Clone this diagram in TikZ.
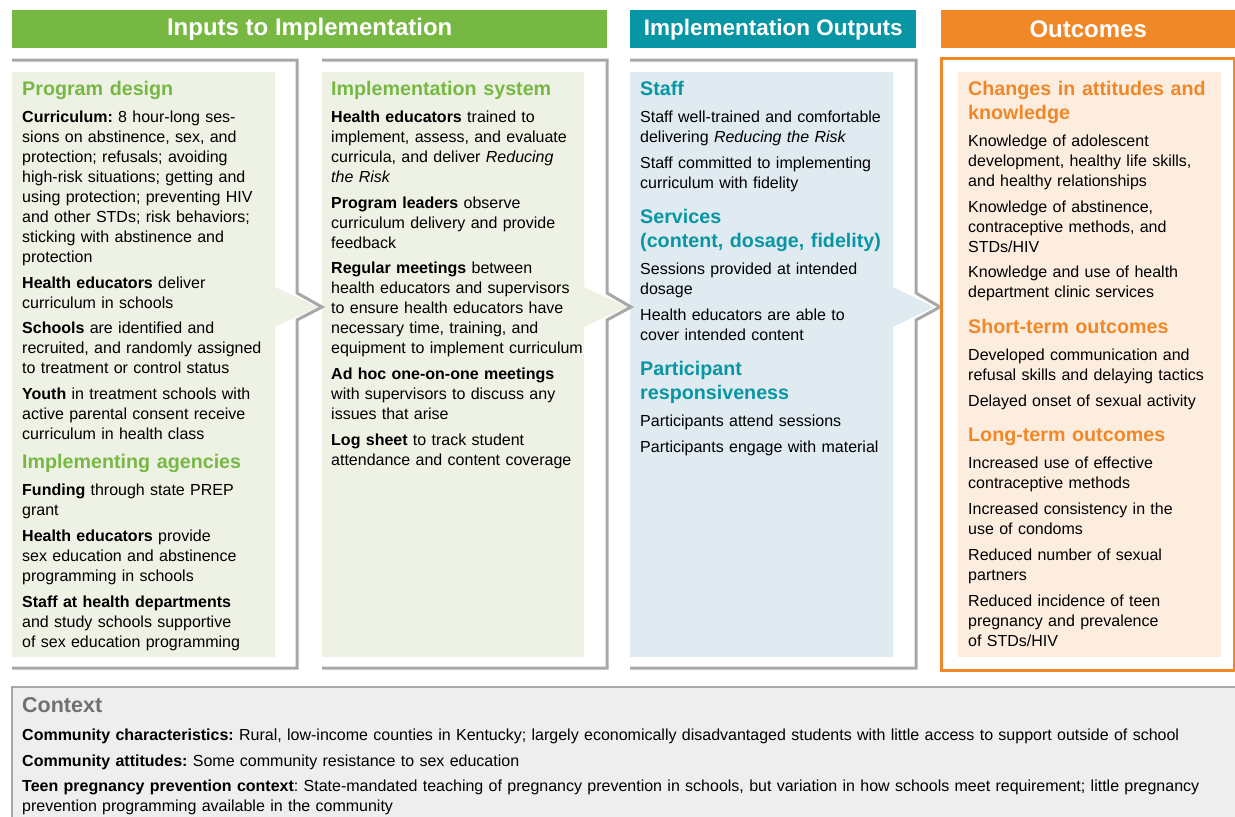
\documentclass[tikz,border=0pt]{standalone}
\usepackage{fontspec}
\setmainfont{Liberation Sans}
\frenchspacing
\usetikzlibrary{positioning}
\definecolor{ingreen}{RGB}{119,184,67}
\definecolor{outteal}{RGB}{8,150,165}
\definecolor{outorange}{RGB}{240,136,40}
\definecolor{greenpanel}{RGB}{237,242,228}
\definecolor{bluepanel}{RGB}{223,235,240}
\definecolor{peachpanel}{RGB}{253,237,223}
\definecolor{framegray}{RGB}{168,168,168}
\definecolor{ctxfill}{RGB}{238,238,238}
\definecolor{ctxhead}{RGB}{112,112,112}

\begin{document}
\begin{tikzpicture}[%
    x=1pt, y=-1pt,
    bar/.style={fill=#1, text=white, font=\fontsize{24}{28}\selectfont\bfseries,
      inner sep=0pt, minimum height=38pt, anchor=north west},
    head/.style={text=#1, font=\fontsize{19.7}{24}\selectfont\bfseries,
      text width=265pt, align=left, inner sep=0pt, anchor=north west,
      execute at begin node=\strut, execute at end node=\strut},
    body/.style={font=\fontsize{16}{20}\selectfont, text width=265pt, align=left,
      inner sep=0pt, anchor=north west,
      execute at begin node=\strut, execute at end node=\strut},
    frame/.style={draw=framegray, line width=3pt},
    para/.style={below right=5.5pt and 0pt of #1.south west},
    spaced/.style={below right=12pt and 0pt of #1.south west}]
  \useasboundingbox (0,0) rectangle (1235,817);

  % panels with their arrow tips
  \fill[greenpanel] (12,72) -| (275,287) -- (318,307) -- (275,327) |- (12,657) -- cycle;
  \fill[greenpanel] (322,72) -| (584,287) -- (627,307) -- (584,327) |- (322,657) -- cycle;
  \fill[bluepanel] (630,72) -| (893,287) -- (934,307) -- (893,327) |- (630,657) -- cycle;
  \fill[peachpanel] (958,72) rectangle (1221,657);

  % open frames
  \draw[frame] (12,60) -- (297,60) -- (297,293) -- (322,307) -- (297,320) -- (297,668) -- (12,668);
  \draw[frame] (322,60) -- (607,60) -- (607,293) -- (631,307) -- (607,320) -- (607,668) -- (322,668);
  \draw[frame] (630,60) -- (916,60) -- (916,293) -- (940,307) -- (916,320) -- (916,668) -- (630,668);
  \draw[draw=outorange, line width=3pt] (941,58) rectangle (1234,670);

  % column titles
  \node[bar=ingreen, minimum width=595pt] (inputs) at (12,10) {Inputs to Implementation};
  \node[bar=outteal, minimum width=286pt, font=\fontsize{22.5}{26}\selectfont\bfseries] (outputs) at (630,10) {Implementation Outputs};
  \node[bar=outorange, minimum width=294pt] (outcomes) at (941,10) {Outcomes};

  % inputs: program design
  \node[head=ingreen] (c1a) at (22,78) {Program design};
  \node[body, para=c1a] (c1b) {\textbf{Curriculum:} 8 hour-long ses-\\sions on abstinence, sex, and\\protection; refusals; avoiding\\high-risk situations; getting and\\using protection; preventing HIV\\and other STDs; risk behaviors;\\sticking with abstinence and\\protection};
  \node[body, para=c1b] (c1c) {\textbf{Health educators} deliver\\curriculum in schools};
  \node[body, para=c1c] (c1d) {\textbf{Schools} are identified and\\recruited, and randomly assigned\\to treatment or control status};
  \node[body, para=c1d] (c1e) {\textbf{Youth} in treatment schools with\\active parental consent receive\\curriculum in health class};
  \node[head=ingreen, para=c1e] (c1f) {Implementing agencies};
  \node[body, para=c1f] (c1g) {\textbf{Funding} through state PREP\\grant};
  \node[body, para=c1g] (c1h) {\textbf{Health educators} provide\\sex education and abstinence\\programming in schools};
  \node[body, para=c1h] (c1i) {\textbf{Staff at health departments}\\and study schools supportive\\of sex education programming};

  % inputs: implementation system
  \node[head=ingreen] (c2a) at (331,78) {Implementation system};
  \node[body, para=c2a] (c2b) {\textbf{Health educators} trained to\\implement, assess, and evaluate\\curricula, and deliver \textit{Reducing}\\\textit{the Risk}};
  \node[body, para=c2b] (c2c) {\textbf{Program leaders} observe\\curriculum delivery and provide\\feedback};
  \node[body, para=c2c] (c2d) {\textbf{Regular meetings} between\\health educators and supervisors\\to ensure health educators have\\necessary time, training, and\\equipment to implement curriculum};
  \node[body, para=c2d] (c2e) {\textbf{Ad hoc one-on-one meetings}\\with supervisors to discuss any\\issues that arise};
  \node[body, para=c2e] (c2f) {\textbf{Log sheet} to track student\\attendance and content coverage};

  % outputs
  \node[head=outteal] (c3a) at (640,78) {Staff};
  \node[body, para=c3a] (c3b) {Staff well-trained and comfortable\\delivering \textit{Reducing the Risk}};
  \node[body, para=c3b] (c3c) {Staff committed to implementing\\curriculum with fidelity};
  \node[head=outteal, spaced=c3c] (c3d) {Services\\(content, dosage, fidelity)};
  \node[body, para=c3d] (c3e) {Sessions provided at intended\\dosage};
  \node[body, para=c3e] (c3f) {Health educators are able to\\cover intended content};
  \node[head=outteal, spaced=c3f] (c3g) {Participant\\responsiveness};
  \node[body, para=c3g] (c3h) {Participants attend sessions};
  \node[body, para=c3h] (c3i) {Participants engage with material};

  % outcomes
  \node[head=outorange] (c4a) at (968,78) {Changes in attitudes and\\knowledge};
  \node[body, para=c4a] (c4b) {Knowledge of adolescent\\development, healthy life skills,\\and healthy relationships};
  \node[body, para=c4b] (c4c) {Knowledge of abstinence,\\contraceptive methods, and\\STDs/HIV};
  \node[body, para=c4c] (c4d) {Knowledge and use of health\\department clinic services};
  \node[head=outorange, spaced=c4d] (c4e) {Short-term outcomes};
  \node[body, para=c4e] (c4f) {Developed communication and\\refusal skills and delaying tactics};
  \node[body, para=c4f] (c4g) {Delayed onset of sexual activity};
  \node[head=outorange, spaced=c4g] (c4h) {Long-term outcomes};
  \node[body, para=c4h] (c4i) {Increased use of effective\\contraceptive methods};
  \node[body, para=c4i] (c4j) {Increased consistency in the\\use of condoms};
  \node[body, para=c4j] (c4k) {Reduced number of sexual\\partners};
  \node[body, para=c4k] (c4l) {Reduced incidence of teen\\pregnancy and prevalence\\of STDs/HIV};

  % context strip
  \fill[ctxfill] (12,687) rectangle (1235,817);
  \draw[frame, line width=2.5pt] (1235,687) -- (12,687) -- (12,817);
  \node[head=ctxhead, font=\fontsize{21.5}{25}\selectfont\bfseries] (ctx) at (22,695) {Context};
  \node[body, text width=1205pt, para=ctx] (ctxa) {\textbf{Community characteristics:} Rural, low-income counties in Kentucky; largely economically disadvantaged students with little access to support outside of school};
  \node[body, text width=1205pt, para=ctxa] (ctxb) {\textbf{Community attitudes:} Some community resistance to sex education};
  \node[body, text width=1205pt, para=ctxb] (ctxc) {\textbf{Teen pregnancy prevention context}: State-mandated teaching of pregnancy prevention in schools, but variation in how schools meet requirement; little pregnancy\\prevention programming available in the community};
\end{tikzpicture}
\end{document}
